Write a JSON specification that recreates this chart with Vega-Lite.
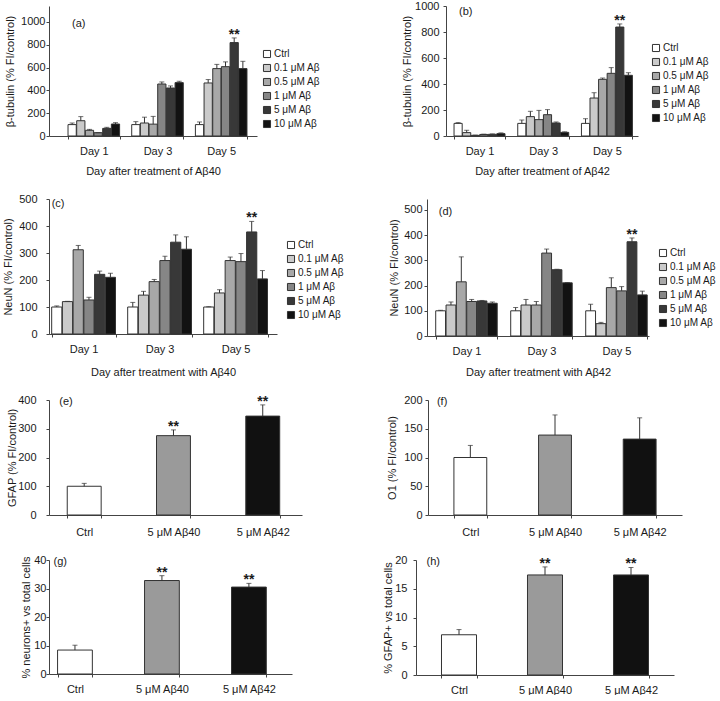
{
  "$schema": "https://vega.github.io/schema/vega-lite/v6.json",
  "padding": {"left": 2, "top": 0, "right": 0, "bottom": 0},
  "background": "white",
  "config": {
    "font": "Liberation Sans",
    "view": {"stroke": null},
    "axis": {"labelFont": "Liberation Sans", "titleFont": "Liberation Sans", "labelFontSize": 11, "titleFontSize": 11, "titleFontWeight": "normal", "labelColor": "#1a1a1a", "titleColor": "#1a1a1a", "domainColor": "#444", "tickColor": "#444", "grid": false, "tickSize": 3, "labelOverlap": false},
    "axisX": {"labelAngle": 0, "tickBand": "extent", "labelPadding": 6, "titlePadding": 9},
    "legend": {"title": null, "orient": "none", "symbolType": "square", "symbolSize": 50, "symbolStrokeColor": "#333", "symbolStrokeWidth": 1, "labelFont": "Liberation Sans", "labelFontSize": 10, "labelColor": "#1a1a1a", "labelOffset": 2, "rowPadding": 2, "padding": 0},
    "text": {"font": "Liberation Sans", "fontSize": 11, "color": "#1a1a1a"}
  },
  "datasets": {
    "a": [
      {"day": "Day 1", "dose": "Ctrl", "value": 100, "upper": 114},
      {"day": "Day 1", "dose": "0.1 μM Aβ", "value": 134, "upper": 170},
      {"day": "Day 1", "dose": "0.5 μM Aβ", "value": 50, "upper": 58},
      {"day": "Day 1", "dose": "1 μM Aβ", "value": 29, "upper": 29},
      {"day": "Day 1", "dose": "5 μM Aβ", "value": 67, "upper": 76},
      {"day": "Day 1", "dose": "10 μM Aβ", "value": 105, "upper": 117},
      {"day": "Day 3", "dose": "Ctrl", "value": 100, "upper": 126},
      {"day": "Day 3", "dose": "0.1 μM Aβ", "value": 114, "upper": 165},
      {"day": "Day 3", "dose": "0.5 μM Aβ", "value": 104, "upper": 172},
      {"day": "Day 3", "dose": "1 μM Aβ", "value": 456, "upper": 474},
      {"day": "Day 3", "dose": "5 μM Aβ", "value": 421, "upper": 439},
      {"day": "Day 3", "dose": "10 μM Aβ", "value": 468, "upper": 480},
      {"day": "Day 5", "dose": "Ctrl", "value": 100, "upper": 123},
      {"day": "Day 5", "dose": "0.1 μM Aβ", "value": 465, "upper": 495},
      {"day": "Day 5", "dose": "0.5 μM Aβ", "value": 591, "upper": 628},
      {"day": "Day 5", "dose": "1 μM Aβ", "value": 608, "upper": 650},
      {"day": "Day 5", "dose": "5 μM Aβ", "value": 819, "upper": 860, "sig": "**"},
      {"day": "Day 5", "dose": "10 μM Aβ", "value": 591, "upper": 655}
    ],
    "b": [
      {"day": "Day 1", "dose": "Ctrl", "value": 97, "upper": 103},
      {"day": "Day 1", "dose": "0.1 μM Aβ", "value": 26, "upper": 44},
      {"day": "Day 1", "dose": "0.5 μM Aβ", "value": 5, "upper": 7},
      {"day": "Day 1", "dose": "1 μM Aβ", "value": 12, "upper": 14},
      {"day": "Day 1", "dose": "5 μM Aβ", "value": 13, "upper": 16},
      {"day": "Day 1", "dose": "10 μM Aβ", "value": 18, "upper": 24},
      {"day": "Day 3", "dose": "Ctrl", "value": 97, "upper": 123},
      {"day": "Day 3", "dose": "0.1 μM Aβ", "value": 149, "upper": 190},
      {"day": "Day 3", "dose": "0.5 μM Aβ", "value": 126, "upper": 197},
      {"day": "Day 3", "dose": "1 μM Aβ", "value": 164, "upper": 203},
      {"day": "Day 3", "dose": "5 μM Aβ", "value": 100, "upper": 108},
      {"day": "Day 3", "dose": "10 μM Aβ", "value": 28, "upper": 32},
      {"day": "Day 5", "dose": "Ctrl", "value": 97, "upper": 133},
      {"day": "Day 5", "dose": "0.1 μM Aβ", "value": 292, "upper": 333},
      {"day": "Day 5", "dose": "0.5 μM Aβ", "value": 436, "upper": 446},
      {"day": "Day 5", "dose": "1 μM Aβ", "value": 482, "upper": 526},
      {"day": "Day 5", "dose": "5 μM Aβ", "value": 838, "upper": 862, "sig": "**"},
      {"day": "Day 5", "dose": "10 μM Aβ", "value": 467, "upper": 487}
    ],
    "c": [
      {"day": "Day 1", "dose": "Ctrl", "value": 100, "upper": 104},
      {"day": "Day 1", "dose": "0.1 μM Aβ", "value": 120, "upper": 121},
      {"day": "Day 1", "dose": "0.5 μM Aβ", "value": 312, "upper": 328},
      {"day": "Day 1", "dose": "1 μM Aβ", "value": 126, "upper": 136},
      {"day": "Day 1", "dose": "5 μM Aβ", "value": 221, "upper": 233},
      {"day": "Day 1", "dose": "10 μM Aβ", "value": 210, "upper": 225},
      {"day": "Day 3", "dose": "Ctrl", "value": 100, "upper": 117},
      {"day": "Day 3", "dose": "0.1 μM Aβ", "value": 144, "upper": 158},
      {"day": "Day 3", "dose": "0.5 μM Aβ", "value": 194, "upper": 202},
      {"day": "Day 3", "dose": "1 μM Aβ", "value": 272, "upper": 288},
      {"day": "Day 3", "dose": "5 μM Aβ", "value": 340, "upper": 367},
      {"day": "Day 3", "dose": "10 μM Aβ", "value": 314, "upper": 360},
      {"day": "Day 5", "dose": "Ctrl", "value": 100, "upper": 101},
      {"day": "Day 5", "dose": "0.1 μM Aβ", "value": 152, "upper": 164},
      {"day": "Day 5", "dose": "0.5 μM Aβ", "value": 272, "upper": 285},
      {"day": "Day 5", "dose": "1 μM Aβ", "value": 268, "upper": 298},
      {"day": "Day 5", "dose": "5 μM Aβ", "value": 378, "upper": 417, "sig": "**"},
      {"day": "Day 5", "dose": "10 μM Aβ", "value": 204, "upper": 235}
    ],
    "d": [
      {"day": "Day 1", "dose": "Ctrl", "value": 100, "upper": 102},
      {"day": "Day 1", "dose": "0.1 μM Aβ", "value": 123, "upper": 135},
      {"day": "Day 1", "dose": "0.5 μM Aβ", "value": 215, "upper": 314},
      {"day": "Day 1", "dose": "1 μM Aβ", "value": 137, "upper": 145},
      {"day": "Day 1", "dose": "5 μM Aβ", "value": 139, "upper": 141},
      {"day": "Day 1", "dose": "10 μM Aβ", "value": 130, "upper": 135},
      {"day": "Day 3", "dose": "Ctrl", "value": 100, "upper": 113},
      {"day": "Day 3", "dose": "0.1 μM Aβ", "value": 123, "upper": 145},
      {"day": "Day 3", "dose": "0.5 μM Aβ", "value": 123, "upper": 137},
      {"day": "Day 3", "dose": "1 μM Aβ", "value": 329, "upper": 345},
      {"day": "Day 3", "dose": "5 μM Aβ", "value": 263, "upper": 265},
      {"day": "Day 3", "dose": "10 μM Aβ", "value": 211, "upper": 212},
      {"day": "Day 5", "dose": "Ctrl", "value": 100, "upper": 126},
      {"day": "Day 5", "dose": "0.1 μM Aβ", "value": 49, "upper": 54},
      {"day": "Day 5", "dose": "0.5 μM Aβ", "value": 192, "upper": 231},
      {"day": "Day 5", "dose": "1 μM Aβ", "value": 179, "upper": 196},
      {"day": "Day 5", "dose": "5 μM Aβ", "value": 374, "upper": 389, "sig": "**"},
      {"day": "Day 5", "dose": "10 μM Aβ", "value": 163, "upper": 178}
    ],
    "e": [
      {"group": "Ctrl", "value": 100, "upper": 110},
      {"group": "5 μM Aβ40", "value": 276, "upper": 296, "sig": "**"},
      {"group": "5 μM Aβ42", "value": 344, "upper": 383, "sig": "**"}
    ],
    "f": [
      {"group": "Ctrl", "value": 100, "upper": 121},
      {"group": "5 μM Aβ40", "value": 139, "upper": 174},
      {"group": "5 μM Aβ42", "value": 132, "upper": 169}
    ],
    "g": [
      {"group": "Ctrl", "value": 8.4, "upper": 10.1},
      {"group": "5 μM Aβ40", "value": 32.8, "upper": 34.5, "sig": "**"},
      {"group": "5 μM Aβ42", "value": 30.5, "upper": 31.8, "sig": "**"}
    ],
    "h": [
      {"group": "Ctrl", "value": 7.0, "upper": 7.9},
      {"group": "5 μM Aβ40", "value": 17.4, "upper": 18.8, "sig": "**"},
      {"group": "5 μM Aβ42", "value": 17.4, "upper": 18.7, "sig": "**"}
    ]
  },
  "spacing": 17,
  "resolve": {"scale": {"color": "independent", "x": "independent", "y": "independent", "xOffset": "independent"}, "legend": {"color": "independent"}},
  "vconcat": [
    {
      "bounds": "flush",
      "spacing": 189,
      "resolve": {"scale": {"color": "independent", "x": "independent", "y": "independent", "xOffset": "independent"}, "legend": {"color": "independent"}},
      "hconcat": [
        {
          "width": 208, "height": 130,
          "data": {"name": "a"},
          "encoding": {
            "x": {"field": "day", "type": "nominal", "title": "Day after treatment of Aβ40", "scale": {"paddingInner": 0.19, "paddingOuter": 0.228, "align": 0.655}},
            "xOffset": {"field": "dose", "type": "nominal", "sort": ["Ctrl", "0.1 μM Aβ", "0.5 μM Aβ", "1 μM Aβ", "5 μM Aβ", "10 μM Aβ"], "scale": {"paddingInner": 0.05}}
          },
          "layer": [
            {"mark": {"type": "bar", "stroke": "#333", "strokeWidth": 1},
             "encoding": {
               "y": {"field": "value", "type": "quantitative", "title": "β-tubulin (% FI/control)", "scale": {"domain": [0, 1140], "nice": false}, "axis": {"values": [0, 200, 400, 600, 800, 1000], "tickCount": 50, "format": "d", "labelPadding": 1, "titlePadding": 5}},
               "color": {"field": "dose", "type": "nominal", "sort": ["Ctrl", "0.1 μM Aβ", "0.5 μM Aβ", "1 μM Aβ", "5 μM Aβ", "10 μM Aβ"], "scale": {"domain": ["Ctrl", "0.1 μM Aβ", "0.5 μM Aβ", "1 μM Aβ", "5 μM Aβ", "10 μM Aβ"], "range": ["#ffffff", "#cacaca", "#a8a8a8", "#868686", "#383838", "#121212"]}, "legend": {"legendX": 213, "legendY": 43}}
             }},
            {"mark": {"type": "rule", "color": "#333", "strokeWidth": 1},
             "encoding": {"y": {"field": "value", "type": "quantitative"}, "y2": {"field": "upper"}}},
            {"mark": {"type": "tick", "orient": "horizontal", "size": 5, "thickness": 1, "color": "#333"},
             "encoding": {"y": {"field": "upper", "type": "quantitative"}}},
            {"transform": [{"filter": "datum.sig"}],
             "mark": {"type": "text", "baseline": "alphabetic", "dy": 1, "fontSize": 14, "fontWeight": "bold"},
             "encoding": {"y": {"field": "upper", "type": "quantitative"}, "text": {"field": "sig"}}},
            {"data": {"values": [{"lbl": "(a)"}]},
             "mark": {"type": "text", "align": "left", "baseline": "middle", "dx": 4, "dy": 2},
             "encoding": {"x": {"datum": "Day 1", "bandPosition": 0}, "xOffset": null, "y": {"datum": 1000}, "text": {"field": "lbl"}}}
          ]
        },
        {
          "width": 192, "height": 130,
          "data": {"name": "b"},
          "encoding": {
            "x": {"field": "day", "type": "nominal", "title": "Day after treatment of Aβ42", "scale": {"paddingInner": 0.2, "paddingOuter": 0.107, "align": 0.59}},
            "xOffset": {"field": "dose", "type": "nominal", "sort": ["Ctrl", "0.1 μM Aβ", "0.5 μM Aβ", "1 μM Aβ", "5 μM Aβ", "10 μM Aβ"], "scale": {"paddingInner": 0.05}}
          },
          "layer": [
            {"mark": {"type": "bar", "stroke": "#333", "strokeWidth": 1},
             "encoding": {
               "y": {"field": "value", "type": "quantitative", "title": "β-tubulin (% FI/control)", "scale": {"domain": [0, 1000], "nice": false}, "axis": {"values": [0, 200, 400, 600, 800, 1000], "tickCount": 50, "format": "d", "labelPadding": 4, "titlePadding": 2}},
               "color": {"field": "dose", "type": "nominal", "sort": ["Ctrl", "0.1 μM Aβ", "0.5 μM Aβ", "1 μM Aβ", "5 μM Aβ", "10 μM Aβ"], "scale": {"domain": ["Ctrl", "0.1 μM Aβ", "0.5 μM Aβ", "1 μM Aβ", "5 μM Aβ", "10 μM Aβ"], "range": ["#ffffff", "#cacaca", "#a8a8a8", "#868686", "#383838", "#121212"]}, "legend": {"legendX": 205, "legendY": 37}}
             }},
            {"mark": {"type": "rule", "color": "#333", "strokeWidth": 1},
             "encoding": {"y": {"field": "value", "type": "quantitative"}, "y2": {"field": "upper"}}},
            {"mark": {"type": "tick", "orient": "horizontal", "size": 5, "thickness": 1, "color": "#333"},
             "encoding": {"y": {"field": "upper", "type": "quantitative"}}},
            {"transform": [{"filter": "datum.sig"}],
             "mark": {"type": "text", "baseline": "alphabetic", "dy": 1, "fontSize": 14, "fontWeight": "bold"},
             "encoding": {"y": {"field": "upper", "type": "quantitative"}, "text": {"field": "sig"}}},
            {"data": {"values": [{"lbl": "(b)"}]},
             "mark": {"type": "text", "align": "left", "baseline": "middle", "dx": 5, "dy": 6},
             "encoding": {"x": {"datum": "Day 1", "bandPosition": 0}, "xOffset": null, "y": {"datum": 1000}, "text": {"field": "lbl"}}}
          ]
        }
      ]
    },
    {
      "bounds": "flush",
      "spacing": 150,
      "resolve": {"scale": {"color": "independent", "x": "independent", "y": "independent", "xOffset": "independent"}, "legend": {"color": "independent"}},
      "hconcat": [
        {
          "width": 228, "height": 135,
          "data": {"name": "c"},
          "encoding": {
            "x": {"field": "day", "type": "nominal", "title": "Day after treatment with Aβ40", "scale": {"paddingInner": 0.16, "paddingOuter": 0.08, "align": 0.22}, "axis": {"titlePadding": 12}},
            "xOffset": {"field": "dose", "type": "nominal", "sort": ["Ctrl", "0.1 μM Aβ", "0.5 μM Aβ", "1 μM Aβ", "5 μM Aβ", "10 μM Aβ"], "scale": {"paddingInner": 0.05}}
          },
          "layer": [
            {"mark": {"type": "bar", "stroke": "#333", "strokeWidth": 1},
             "encoding": {
               "y": {"field": "value", "type": "quantitative", "title": "NeuN (% FI/control)", "scale": {"domain": [0, 500], "nice": false}, "axis": {"values": [0, 100, 200, 300, 400, 500], "tickCount": 50, "format": "d", "labelPadding": 9, "titlePadding": 5}},
               "color": {"field": "dose", "type": "nominal", "sort": ["Ctrl", "0.1 μM Aβ", "0.5 μM Aβ", "1 μM Aβ", "5 μM Aβ", "10 μM Aβ"], "scale": {"domain": ["Ctrl", "0.1 μM Aβ", "0.5 μM Aβ", "1 μM Aβ", "5 μM Aβ", "10 μM Aβ"], "range": ["#ffffff", "#cacaca", "#a8a8a8", "#868686", "#383838", "#121212"]}, "legend": {"legendX": 237, "legendY": 41}}
             }},
            {"mark": {"type": "rule", "color": "#333", "strokeWidth": 1},
             "encoding": {"y": {"field": "value", "type": "quantitative"}, "y2": {"field": "upper"}}},
            {"mark": {"type": "tick", "orient": "horizontal", "size": 5, "thickness": 1, "color": "#333"},
             "encoding": {"y": {"field": "upper", "type": "quantitative"}}},
            {"transform": [{"filter": "datum.sig"}],
             "mark": {"type": "text", "baseline": "alphabetic", "dy": 1, "fontSize": 14, "fontWeight": "bold"},
             "encoding": {"y": {"field": "upper", "type": "quantitative"}, "text": {"field": "sig"}}},
            {"data": {"values": [{"lbl": "(c)"}]},
             "mark": {"type": "text", "align": "left", "baseline": "middle", "dx": 0, "dy": 5},
             "encoding": {"x": {"datum": "Day 1", "bandPosition": 0}, "xOffset": null, "y": {"datum": 500}, "text": {"field": "lbl"}}}
          ]
        },
        {
          "width": 222, "height": 137,
          "data": {"name": "d"},
          "encoding": {
            "x": {"field": "day", "type": "nominal", "title": "Day after treatment with Aβ42", "scale": {"paddingInner": 0.18, "paddingOuter": 0.07, "align": 0.83}, "axis": {"titlePadding": 10}},
            "xOffset": {"field": "dose", "type": "nominal", "sort": ["Ctrl", "0.1 μM Aβ", "0.5 μM Aβ", "1 μM Aβ", "5 μM Aβ", "10 μM Aβ"], "scale": {"paddingInner": 0.05}}
          },
          "layer": [
            {"mark": {"type": "bar", "stroke": "#333", "strokeWidth": 1},
             "encoding": {
               "y": {"field": "value", "type": "quantitative", "title": "NeuN (% FI/control)", "scale": {"domain": [0, 543.6], "nice": false}, "axis": {"values": [0, 100, 200, 300, 400, 500], "tickCount": 50, "format": "d", "labelPadding": 2, "titlePadding": 4}},
               "color": {"field": "dose", "type": "nominal", "sort": ["Ctrl", "0.1 μM Aβ", "0.5 μM Aβ", "1 μM Aβ", "5 μM Aβ", "10 μM Aβ"], "scale": {"domain": ["Ctrl", "0.1 μM Aβ", "0.5 μM Aβ", "1 μM Aβ", "5 μM Aβ", "10 μM Aβ"], "range": ["#ffffff", "#cacaca", "#a8a8a8", "#868686", "#383838", "#121212"]}, "legend": {"legendX": 231, "legendY": 49}}
             }},
            {"mark": {"type": "rule", "color": "#333", "strokeWidth": 1},
             "encoding": {"y": {"field": "value", "type": "quantitative"}, "y2": {"field": "upper"}}},
            {"mark": {"type": "tick", "orient": "horizontal", "size": 5, "thickness": 1, "color": "#333"},
             "encoding": {"y": {"field": "upper", "type": "quantitative"}}},
            {"transform": [{"filter": "datum.sig"}],
             "mark": {"type": "text", "baseline": "alphabetic", "dy": 1, "fontSize": 14, "fontWeight": "bold"},
             "encoding": {"y": {"field": "upper", "type": "quantitative"}, "text": {"field": "sig"}}},
            {"data": {"values": [{"lbl": "(d)"}]},
             "mark": {"type": "text", "align": "left", "baseline": "middle", "dx": 3, "dy": 2},
             "encoding": {"x": {"datum": "Day 1", "bandPosition": 0}, "xOffset": null, "y": {"datum": 500}, "text": {"field": "lbl"}}}
          ]
        }
      ]
    },
    {
      "bounds": "flush",
      "spacing": 126,
      "resolve": {"scale": {"color": "independent", "x": "independent", "y": "independent"}, "legend": {"color": "independent"}},
      "hconcat": [
        {
          "width": 253, "height": 115,
          "data": {"name": "e"},
          "encoding": {
            "x": {"field": "group", "type": "nominal", "title": null, "sort": ["Ctrl", "5 μM Aβ40", "5 μM Aβ42"], "scale": {"paddingInner": 0.62, "paddingOuter": 0.227, "align": 0.45}, "axis": {"labelPadding": 8}}
          },
          "layer": [
            {"mark": {"type": "bar", "stroke": "#333", "strokeWidth": 1},
             "encoding": {
               "y": {"field": "value", "type": "quantitative", "title": "GFAP (% FI/control)", "scale": {"domain": [0, 400], "nice": false}, "axis": {"values": [0, 100, 200, 300, 400], "tickCount": 50, "format": "d", "labelPadding": 10, "titlePadding": 0}},
               "color": {"field": "group", "type": "nominal", "scale": {"domain": ["Ctrl", "5 μM Aβ40", "5 μM Aβ42"], "range": ["#ffffff", "#9a9a9a", "#111111"]}, "legend": null}
             }},
            {"mark": {"type": "rule", "color": "#333", "strokeWidth": 1},
             "encoding": {"y": {"field": "value", "type": "quantitative"}, "y2": {"field": "upper"}}},
            {"mark": {"type": "tick", "orient": "horizontal", "size": 5, "thickness": 1, "color": "#333"},
             "encoding": {"y": {"field": "upper", "type": "quantitative"}}},
            {"transform": [{"filter": "datum.sig"}],
             "mark": {"type": "text", "baseline": "alphabetic", "dy": 1, "fontSize": 14, "fontWeight": "bold"},
             "encoding": {"y": {"field": "upper", "type": "quantitative"}, "text": {"field": "sig"}}},
            {"data": {"values": [{"lbl": "(e)"}]},
             "mark": {"type": "text", "align": "left", "baseline": "middle", "dx": -8, "dy": 2},
             "encoding": {"x": {"datum": "Ctrl", "bandPosition": 0}, "y": {"datum": 400}, "text": {"field": "lbl"}}}
          ]
        },
        {
          "width": 254, "height": 115,
          "data": {"name": "f"},
          "encoding": {
            "x": {"field": "group", "type": "nominal", "title": null, "sort": ["Ctrl", "5 μM Aβ40", "5 μM Aβ42"], "scale": {"paddingInner": 0.612, "paddingOuter": 0.306}, "axis": {"labelPadding": 8}}
          },
          "layer": [
            {"mark": {"type": "bar", "stroke": "#333", "strokeWidth": 1},
             "encoding": {
               "y": {"field": "value", "type": "quantitative", "title": "O1 (% FI/control)", "scale": {"domain": [0, 200], "nice": false}, "axis": {"values": [0, 50, 100, 150, 200], "tickCount": 50, "format": "d", "labelPadding": 3, "titlePadding": 6}},
               "color": {"field": "group", "type": "nominal", "scale": {"domain": ["Ctrl", "5 μM Aβ40", "5 μM Aβ42"], "range": ["#ffffff", "#9a9a9a", "#111111"]}, "legend": null}
             }},
            {"mark": {"type": "rule", "color": "#333", "strokeWidth": 1},
             "encoding": {"y": {"field": "value", "type": "quantitative"}, "y2": {"field": "upper"}}},
            {"mark": {"type": "tick", "orient": "horizontal", "size": 5, "thickness": 1, "color": "#333"},
             "encoding": {"y": {"field": "upper", "type": "quantitative"}}},
            {"data": {"values": [{"lbl": "(f)"}]},
             "mark": {"type": "text", "align": "left", "baseline": "middle", "dx": -17, "dy": 2},
             "encoding": {"x": {"datum": "Ctrl", "bandPosition": 0}, "y": {"datum": 200}, "text": {"field": "lbl"}}}
          ]
        }
      ]
    },
    {
      "bounds": "flush",
      "spacing": 124,
      "resolve": {"scale": {"color": "independent", "x": "independent", "y": "independent"}, "legend": {"color": "independent"}},
      "hconcat": [
        {
          "width": 243, "height": 114,
          "data": {"name": "g"},
          "encoding": {
            "x": {"field": "group", "type": "nominal", "title": null, "sort": ["Ctrl", "5 μM Aβ40", "5 μM Aβ42"], "scale": {"paddingInner": 0.6, "paddingOuter": 0.197, "align": 0.25}}
          },
          "layer": [
            {"mark": {"type": "bar", "stroke": "#333", "strokeWidth": 1},
             "encoding": {
               "y": {"field": "value", "type": "quantitative", "title": "% neurons+ vs total cells", "scale": {"domain": [0, 40], "nice": false}, "axis": {"values": [0, 10, 20, 30, 40], "tickCount": 50, "format": "d", "labelPadding": 0, "titlePadding": 2}},
               "color": {"field": "group", "type": "nominal", "scale": {"domain": ["Ctrl", "5 μM Aβ40", "5 μM Aβ42"], "range": ["#ffffff", "#9a9a9a", "#111111"]}, "legend": null}
             }},
            {"mark": {"type": "rule", "color": "#333", "strokeWidth": 1},
             "encoding": {"y": {"field": "value", "type": "quantitative"}, "y2": {"field": "upper"}}},
            {"mark": {"type": "tick", "orient": "horizontal", "size": 5, "thickness": 1, "color": "#333"},
             "encoding": {"y": {"field": "upper", "type": "quantitative"}}},
            {"transform": [{"filter": "datum.sig"}],
             "mark": {"type": "text", "baseline": "alphabetic", "dy": 1, "fontSize": 14, "fontWeight": "bold"},
             "encoding": {"y": {"field": "upper", "type": "quantitative"}, "text": {"field": "sig"}}},
            {"data": {"values": [{"lbl": "(g)"}]},
             "mark": {"type": "text", "align": "left", "baseline": "middle", "dx": -4, "dy": 2},
             "encoding": {"x": {"datum": "Ctrl", "bandPosition": 0}, "y": {"datum": 40}, "text": {"field": "lbl"}}}
          ]
        },
        {
          "width": 258, "height": 115,
          "data": {"name": "h"},
          "encoding": {
            "x": {"field": "group", "type": "nominal", "title": null, "sort": ["Ctrl", "5 μM Aβ40", "5 μM Aβ42"], "scale": {"paddingInner": 0.593, "paddingOuter": 0.2965}}
          },
          "layer": [
            {"mark": {"type": "bar", "stroke": "#333", "strokeWidth": 1},
             "encoding": {
               "y": {"field": "value", "type": "quantitative", "title": "% GFAP+ vs total cells", "scale": {"domain": [0, 20], "nice": false}, "axis": {"values": [0, 5, 10, 15, 20], "tickCount": 50, "format": "d", "labelPadding": 6, "titlePadding": 1}},
               "color": {"field": "group", "type": "nominal", "scale": {"domain": ["Ctrl", "5 μM Aβ40", "5 μM Aβ42"], "range": ["#ffffff", "#9a9a9a", "#111111"]}, "legend": null}
             }},
            {"mark": {"type": "rule", "color": "#333", "strokeWidth": 1},
             "encoding": {"y": {"field": "value", "type": "quantitative"}, "y2": {"field": "upper"}}},
            {"mark": {"type": "tick", "orient": "horizontal", "size": 5, "thickness": 1, "color": "#333"},
             "encoding": {"y": {"field": "upper", "type": "quantitative"}}},
            {"transform": [{"filter": "datum.sig"}],
             "mark": {"type": "text", "baseline": "alphabetic", "dy": 1, "fontSize": 14, "fontWeight": "bold"},
             "encoding": {"y": {"field": "upper", "type": "quantitative"}, "text": {"field": "sig"}}},
            {"data": {"values": [{"lbl": "(h)"}]},
             "mark": {"type": "text", "align": "left", "baseline": "middle", "dx": -15, "dy": 2},
             "encoding": {"x": {"datum": "Ctrl", "bandPosition": 0}, "y": {"datum": 20}, "text": {"field": "lbl"}}}
          ]
        }
      ]
    }
  ]
}
